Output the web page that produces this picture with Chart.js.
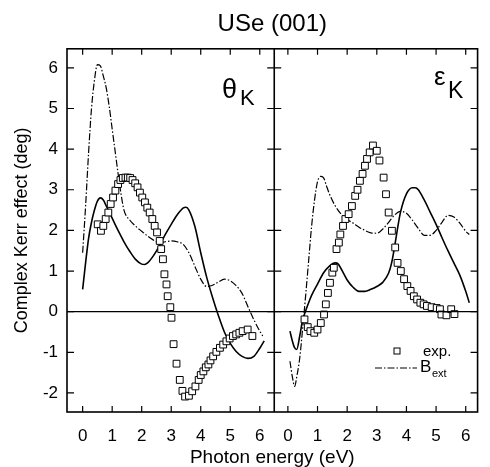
<!DOCTYPE html>
<html><head><meta charset="utf-8">
<script src="https://cdn.jsdelivr.net/npm/chart.js@4"></script>
<style>html,body{margin:0;padding:0;background:#fff}</style>
</head><body>
<canvas id="c" width="490" height="467"></canvas>
<script>
// ---------- data ----------
const thetaTheoryX = [0.0,0.1,0.2,0.3,0.4,0.5,0.6,0.7,0.8,1.0,1.2,1.4,1.6,1.8,2.0,2.1,2.2,2.4,2.6,2.8,3.0,3.2,3.4,3.5,3.6,3.8,4.0,4.2,4.4,4.6,4.8,5.0,5.2,5.4,5.6,5.8,6.0,6.15];
const thetaTheoryY = [0.55,1.2,1.8,2.2,2.5,2.72,2.8,2.75,2.6,2.3,2.0,1.72,1.48,1.28,1.17,1.16,1.2,1.38,1.62,1.9,2.15,2.38,2.55,2.57,2.5,2.1,1.45,0.85,0.35,-0.1,-0.5,-0.78,-0.98,-1.1,-1.15,-1.1,-0.9,-0.72];

const thetaBextX = [0.0,0.1,0.2,0.3,0.4,0.5,0.6,0.7,0.8,0.9,1.0,1.1,1.2,1.3,1.4,1.6,1.8,2.0,2.2,2.4,2.6,2.8,3.0,3.2,3.4,3.6,3.8,4.0,4.2,4.4,4.6,4.8,5.0,5.2,5.4,5.6,5.8,6.0,6.1];
const thetaBextY = [1.45,2.6,3.9,5.0,5.7,6.08,6.05,5.8,5.5,5.05,4.5,3.95,3.4,2.9,2.5,2.25,2.1,1.98,1.86,1.76,1.7,1.72,1.74,1.72,1.66,1.45,1.12,0.8,0.62,0.65,0.73,0.8,0.76,0.64,0.45,0.12,-0.2,-0.48,-0.6];

const thetaExpX = [0.51,0.62,0.70,0.78,0.87,0.95,1.03,1.11,1.20,1.28,1.36,1.45,1.53,1.61,1.69,1.78,1.86,1.94,2.02,2.11,2.19,2.27,2.36,2.44,2.52,2.61,2.66,2.72,2.77,2.84,2.88,2.97,3.01,3.08,3.18,3.29,3.38,3.47,3.60,3.71,3.82,3.93,4.00,4.09,4.17,4.26,4.33,4.42,4.53,4.65,4.76,4.87,4.98,5.09,5.20,5.31,5.42,5.59,5.75];
const thetaExpY = [2.15,1.99,2.11,2.28,2.44,2.65,2.81,2.98,3.14,3.24,3.29,3.30,3.30,3.29,3.24,3.16,3.06,2.93,2.81,2.69,2.56,2.44,2.28,2.11,1.95,1.74,1.54,1.29,0.92,0.67,0.38,0.11,-0.15,-0.80,-1.28,-1.68,-1.95,-2.09,-2.07,-1.96,-1.84,-1.68,-1.56,-1.47,-1.37,-1.30,-1.20,-1.10,-0.99,-0.89,-0.81,-0.73,-0.66,-0.60,-0.56,-0.52,-0.48,-0.44,-0.60];

const epsTheoryX = [0.07,0.15,0.22,0.3,0.4,0.5,0.6,0.7,0.8,1.0,1.2,1.4,1.6,1.7,1.8,2.0,2.2,2.4,2.6,2.8,3.0,3.2,3.4,3.5,3.6,3.7,3.8,4.0,4.2,4.3,4.4,4.6,4.8,5.0,5.2,5.4,5.6,5.8,6.0,6.12];
const epsTheoryY = [-0.48,-0.72,-0.88,-0.93,-0.6,-0.2,0.02,0.22,0.4,0.68,0.95,1.12,1.2,1.17,1.05,0.78,0.6,0.5,0.5,0.55,0.62,0.72,0.95,1.2,1.6,2.05,2.45,2.9,3.05,3.05,3.0,2.75,2.45,2.15,1.82,1.5,1.2,0.9,0.5,0.22];

const epsBextX = [0.07,0.15,0.23,0.3,0.4,0.5,0.6,0.7,0.8,0.9,1.0,1.1,1.2,1.3,1.4,1.6,1.8,2.0,2.2,2.4,2.6,2.8,3.0,3.2,3.4,3.6,3.8,4.0,4.2,4.4,4.6,4.8,5.0,5.2,5.4,5.6,5.8,6.0,6.12];
const epsBextY = [-1.22,-1.6,-1.84,-1.6,-1.14,-0.4,0.4,1.25,2.1,2.75,3.2,3.33,3.3,3.1,2.9,2.6,2.4,2.27,2.18,2.08,2.0,1.94,1.93,2.03,2.2,2.38,2.47,2.42,2.25,2.05,1.88,1.88,2.0,2.2,2.37,2.33,2.18,1.98,1.9];

const epsExpX = [0.56,0.67,0.76,0.89,1.00,1.11,1.22,1.28,1.35,1.42,1.50,1.55,1.64,1.72,1.77,1.86,1.94,2.05,2.16,2.27,2.35,2.43,2.52,2.60,2.67,2.76,2.87,3.00,3.09,3.23,3.31,3.40,3.51,3.62,3.70,3.81,3.92,4.03,4.14,4.25,4.36,4.47,4.58,4.69,4.85,5.02,5.13,5.18,5.35,5.51,5.62];
const epsExpY = [-0.19,-0.38,-0.48,-0.52,-0.44,-0.28,-0.07,0.18,0.46,0.71,0.96,1.08,1.54,1.70,1.90,2.11,2.28,2.40,2.60,2.85,3.00,3.22,3.39,3.59,3.76,3.92,4.09,3.96,3.72,3.30,2.89,2.44,1.99,1.58,1.20,1.00,0.80,0.63,0.51,0.38,0.30,0.22,0.18,0.14,0.11,0.09,0.06,-0.07,-0.09,0.06,-0.06];

const xTickStep = 1;
const yTickStep = 0.5;
const titleText = 'USe (001)';
const xTitle = 'Photon energy (eV)';
const yTitle = 'Complex Kerr effect (deg)';

// ---------- helpers ----------
const pts = (xs, ys) => xs.map((x, i) => ({x, y: ys[i]}));
const FONT = "'Liberation Sans', Arial, Helvetica, sans-serif";
const DASHDOT = [7, 2, 1.5, 2];

const lineDs = (label, xs, ys, axis, dash) => ({
  label, data: pts(xs, ys), xAxisID: axis, yAxisID: 'y',
  borderColor: '#000', borderWidth: dash ? 1.2 : 1.6, borderDash: dash || [],
  pointRadius: 0, fill: false, cubicInterpolationMode: 'monotone', order: 2
});
const expDs = (label, xs, ys, axis) => ({
  label, data: pts(xs, ys), xAxisID: axis, yAxisID: 'y', showLine: false,
  pointStyle: 'rect', pointRadius: 4.8, pointBorderWidth: 1,
  pointBackgroundColor: '#fff', pointBorderColor: '#000',
  borderColor: '#000', backgroundColor: '#fff', order: 1
});

const xScale = (min, max, weight) => ({
  type: 'linear', position: 'bottom', stack: 'panels', stackWeight: weight,
  min, max,
  grid: {display: false, drawTicks: false}, border: {display: false},
  ticks: {stepSize: xTickStep, includeBounds: false, autoSkip: false, maxRotation: 0, minRotation: 0,
          padding: 14, color: '#000', font: {family: FONT, size: 17}},
  afterFit(s) { s.height = 31; }
});

const framePlugin = {
  id: 'frame',
  afterDatasetsDraw(chart) {
    const {ctx, chartArea: a, scales} = chart;
    const y = scales.y, x1 = scales.x1, x2 = scales.x2;
    ctx.save();
    ctx.strokeStyle = '#000';
    ctx.setLineDash([]);
    // zero line
    const y0 = y.getPixelForValue(0);
    ctx.lineWidth = 1.4;
    ctx.beginPath(); ctx.moveTo(a.left, y0); ctx.lineTo(a.right, y0); ctx.stroke();
    // frame + divider
    ctx.lineWidth = 1.6;
    ctx.strokeRect(a.left, a.top, a.right - a.left, a.bottom - a.top);
    ctx.beginPath(); ctx.moveTo(x1.right, a.top); ctx.lineTo(x1.right, a.bottom); ctx.stroke();
    // y ticks
    ctx.lineWidth = 1.2;
    y.ticks.forEach(t => {
      const py = y.getPixelForValue(t.value);
      const len = Number.isInteger(t.value) ? 7 : 5;
      ctx.beginPath();
      ctx.moveTo(a.left, py); ctx.lineTo(a.left + len, py);
      ctx.moveTo(x1.right - len, py); ctx.lineTo(x1.right + len, py);
      ctx.moveTo(a.right - len, py); ctx.lineTo(a.right, py);
      ctx.stroke();
    });
    // x ticks
    [x1, x2].forEach(s => s.ticks.forEach(t => {
      const px = s.getPixelForValue(t.value);
      ctx.beginPath();
      ctx.moveTo(px, a.bottom); ctx.lineTo(px, a.bottom - 6);
      ctx.moveTo(px, a.top); ctx.lineTo(px, a.top + 6);
      ctx.stroke();
    }));
    // panel labels
    ctx.fillStyle = '#000';
    ctx.textBaseline = 'alphabetic';
    ctx.textAlign = 'left';
    ctx.font = '27px ' + FONT;
    ctx.fillText('θ', 222, 98);
    ctx.font = '22px ' + FONT;
    ctx.fillText('K', 240, 105);
    ctx.font = '26px ' + FONT;
    ctx.fillText('ε', 434, 85);
    ctx.font = '23px ' + FONT;
    ctx.fillText('K', 448, 98);
    // legend
    ctx.lineWidth = 1;
    ctx.fillStyle = '#fff';
    ctx.fillRect(394, 348, 6, 6);
    ctx.strokeRect(394, 348, 6, 6);
    ctx.fillStyle = '#000';
    ctx.textBaseline = 'middle';
    ctx.font = '15px ' + FONT;
    ctx.fillText('exp.', 423, 352);
    ctx.lineWidth = 1.2;
    ctx.setLineDash(DASHDOT);
    ctx.beginPath(); ctx.moveTo(375, 368); ctx.lineTo(417, 368); ctx.stroke();
    ctx.setLineDash([]);
    ctx.font = '17px ' + FONT;
    ctx.fillText('B', 420, 367);
    ctx.font = '11px ' + FONT;
    ctx.fillText('ext', 432, 374);
    ctx.restore();
  }
};

new Chart(document.getElementById('c'), {
  type: 'line',
  data: {
    datasets: [
      expDs('exp. θK', thetaExpX, thetaExpY, 'x1'),
      expDs('exp. εK', epsExpX, epsExpY, 'x2'),
      lineDs('θK theory', thetaTheoryX, thetaTheoryY, 'x1'),
      lineDs('θK B_ext', thetaBextX, thetaBextY, 'x1', DASHDOT),
      lineDs('εK theory', epsTheoryX, epsTheoryY, 'x2'),
      lineDs('εK B_ext', epsBextX, epsBextY, 'x2', DASHDOT)
    ]
  },
  options: {
    responsive: false, animation: false, devicePixelRatio: 1,
    layout: {padding: {left: 0, right: 3, top: 0, bottom: 0}},
    plugins: {
      legend: {display: false}, tooltip: {enabled: false},
      title: {display: true, text: titleText, color: '#000', fullSize: false,
              font: {family: FONT, size: 24, weight: 'normal'}, padding: {top: 10, bottom: 10}},
      subtitle: {display: true, text: xTitle, position: 'bottom', fullSize: false, color: '#000',
                 font: {family: FONT, size: 19, weight: 'normal', lineHeight: 1}, padding: {top: 5, bottom: 0}}
    },
    scales: {
      x1: xScale(-0.53, 6.49, 212),
      x2: xScale(-0.46, 6.40, 208),
      y: {
        type: 'linear', position: 'left', min: -2.47, max: 6.47,
        grid: {display: false, drawTicks: false}, border: {display: false},
        ticks: {stepSize: yTickStep, includeBounds: false, padding: 9, color: '#000',
                font: {family: FONT, size: 17},
                callback: v => Number.isInteger(v) ? String(v) : ''},
        title: {display: true, text: yTitle, color: '#000',
                font: {family: FONT, size: 18}, padding: {top: 11, bottom: 0}},
        afterFit(s) { s.width = 67; }
      }
    }
  },
  plugins: [framePlugin]
});
</script>
</body></html>
